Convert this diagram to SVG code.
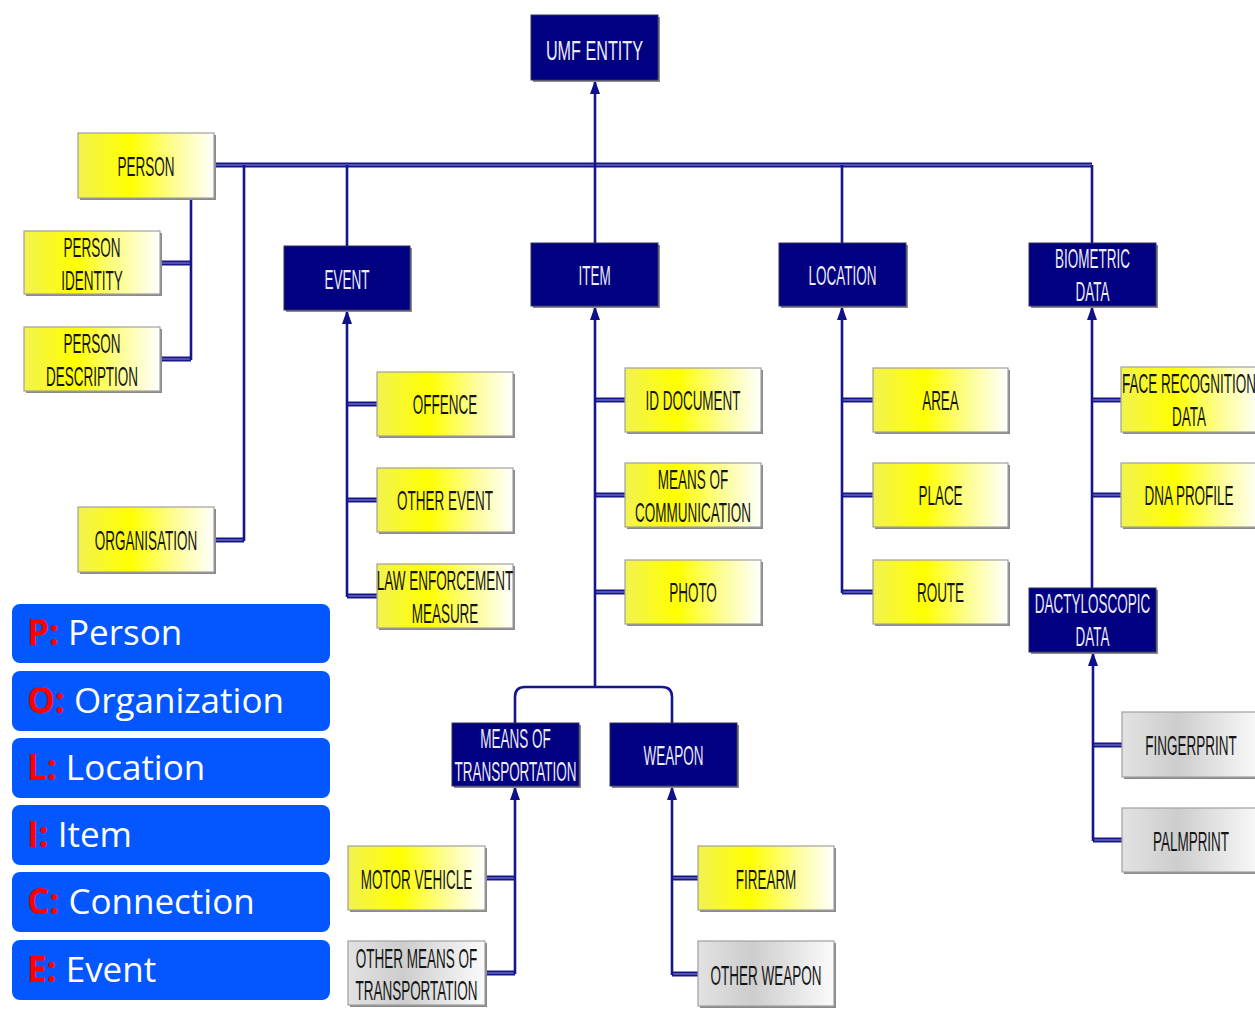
<svg xmlns="http://www.w3.org/2000/svg" width="1255" height="1009" viewBox="0 0 1255 1009">
  <defs>
    <linearGradient id="gy" x1="0" y1="0" x2="1" y2="0">
      <stop offset="0" stop-color="#f2f250"/>
      <stop offset="0.38" stop-color="#ffff00"/>
      <stop offset="0.7" stop-color="#fdfd90"/>
      <stop offset="1" stop-color="#ffffff"/>
    </linearGradient>
    <linearGradient id="gg" x1="0" y1="0" x2="1" y2="0">
      <stop offset="0" stop-color="#e2e2e2"/>
      <stop offset="0.4" stop-color="#cdcdcd"/>
      <stop offset="1" stop-color="#fbfbfb"/>
    </linearGradient>
    <!-- arrowhead drawn along +x, tip at the path end -->
    <marker id="ah" viewBox="0 0 14 10" refX="13" refY="5" markerWidth="14" markerHeight="10" markerUnits="userSpaceOnUse" orient="auto">
      <path d="M0 0 L14 5 L0 10 Z" fill="#101088"/>
    </marker>
    <style>
      .sh { fill: #8a8a8a; }
      .dk { fill: #000080; stroke: #30305a; stroke-width: 1; }
      .yl { fill: url(#gy); stroke: #a0a0a0; stroke-width: 1.2; }
      .gr { fill: url(#gg); stroke: #a0a0a0; stroke-width: 1.2; }
      .t { font-family: "Liberation Sans", Arial, sans-serif; font-size: 27px; text-anchor: middle; }
      .tw { fill: #ececf4; }
      .tb { fill: #151515; }
      .bus { fill: none; stroke: #16168c; stroke-width: 5; }
      .busc { fill: none; stroke: #8c8cd0; stroke-width: 1.2; }
      .ln { fill: none; stroke: #16168c; stroke-width: 2.6; }
      .lg { fill: #0457ff; }
      .lt { font-family: "Open Sans", "Liberation Sans", sans-serif; font-size: 35px; fill: #ffffff; }
      .lk { fill: #ff0000; font-weight: bold; }
    </style>
  </defs>

  <rect width="1255" height="1009" fill="#ffffff"/>

  <!-- connectors -->
  <g id="connectors">
    <!-- thick double-ruled runs -->
    <path class="bus" d="M214 165 H1092 M214 540 H244 M160 263 H191 M160 359 H191
      M347 404 H377 M347 500 H377 M347 596 H377
      M595 400 H625 M595 495 H625 M595 592 H625
      M842 400 H873 M842 495 H873 M842 592 H873
      M1092 400 H1121 M1092 495 H1121
      M1093 745 H1122 M1093 840 H1122
      M485 878 H515 M485 973 H515
      M672 878 H698 M672 974 H698"/>
    <path class="busc" d="M214 165 H1092 M214 540 H244 M160 263 H191 M160 359 H191
      M347 404 H377 M347 500 H377 M347 596 H377
      M595 400 H625 M595 495 H625 M595 592 H625
      M842 400 H873 M842 495 H873 M842 592 H873
      M1092 400 H1121 M1092 495 H1121
      M1093 745 H1122 M1093 840 H1122
      M485 878 H515 M485 973 H515
      M672 878 H698 M672 974 H698"/>
    <!-- drops from the main bus -->
    <path class="ln" d="M244 165 V541 M347 165 V246 M595 165 V243 M842 165 V243 M1092 165 V243 M191 198 V360"/>
    <!-- item split -->
    <path class="ln" d="M515 723 V697 Q515 687 525 687 H662 Q672 687 672 697 V723"/>
    <!-- inheritance arrows -->
    <path class="ln" marker-end="url(#ah)" d="M595 165 V81"/>
    <path class="ln" marker-end="url(#ah)" d="M347 597 V311"/>
    <path class="ln" marker-end="url(#ah)" d="M595 687 V307"/>
    <path class="ln" marker-end="url(#ah)" d="M842 593 V307"/>
    <path class="ln" marker-end="url(#ah)" d="M1092 588 V307"/>
    <path class="ln" marker-end="url(#ah)" d="M1093 841 V653"/>
    <path class="ln" marker-end="url(#ah)" d="M515 974 V787"/>
    <path class="ln" marker-end="url(#ah)" d="M672 975 V787"/>
  </g>

  <!-- top node -->
  <g id="umf-entity">
    <rect class="sh" x="533" y="17" width="127" height="65"/>
    <rect class="dk" x="531" y="15" width="127" height="65"/>
    <text class="t tw" transform="translate(594.5 60) scale(0.6 1)">UMF ENTITY</text>
  </g>

  <!-- person branch -->
  <g id="person">
    <rect class="sh" x="80" y="135" width="136" height="65"/>
    <rect class="yl" x="78" y="133" width="136" height="65"/>
    <text class="t tb" transform="translate(146 176) scale(0.5 1)">PERSON</text>
  </g>
  <g id="person-identity">
    <rect class="sh" x="26" y="233" width="136" height="63"/>
    <rect class="yl" x="24" y="231" width="136" height="63"/>
    <text class="t tb" transform="translate(92 257) scale(0.5 1)">PERSON</text>
    <text class="t tb" transform="translate(92 290) scale(0.5 1)">IDENTITY</text>
  </g>
  <g id="person-description">
    <rect class="sh" x="26" y="329" width="136" height="64"/>
    <rect class="yl" x="24" y="327" width="136" height="64"/>
    <text class="t tb" transform="translate(92 353) scale(0.5 1)">PERSON</text>
    <text class="t tb" transform="translate(92 386) scale(0.5 1)">DESCRIPTION</text>
  </g>
  <g id="organisation">
    <rect class="sh" x="80" y="509" width="136" height="65"/>
    <rect class="yl" x="78" y="507" width="136" height="65"/>
    <text class="t tb" transform="translate(146 550) scale(0.5 1)">ORGANISATION</text>
  </g>

  <!-- event branch -->
  <g id="event">
    <rect class="sh" x="286" y="248" width="126" height="64"/>
    <rect class="dk" x="284" y="246" width="126" height="64"/>
    <text class="t tw" transform="translate(347 289) scale(0.5 1)">EVENT</text>
  </g>
  <g id="offence">
    <rect class="sh" x="379" y="374" width="136" height="64"/>
    <rect class="yl" x="377" y="372" width="136" height="64"/>
    <text class="t tb" transform="translate(445 414) scale(0.5 1)">OFFENCE</text>
  </g>
  <g id="other-event">
    <rect class="sh" x="379" y="470" width="136" height="64"/>
    <rect class="yl" x="377" y="468" width="136" height="64"/>
    <text class="t tb" transform="translate(445 510) scale(0.5 1)">OTHER EVENT</text>
  </g>
  <g id="law-enforcement-measure">
    <rect class="sh" x="379" y="566" width="136" height="64"/>
    <rect class="yl" x="377" y="564" width="136" height="64"/>
    <text class="t tb" transform="translate(445 590) scale(0.5 1)">LAW ENFORCEMENT</text>
    <text class="t tb" transform="translate(445 623) scale(0.5 1)">MEASURE</text>
  </g>

  <!-- item branch -->
  <g id="item">
    <rect class="sh" x="533" y="245" width="127" height="63"/>
    <rect class="dk" x="531" y="243" width="127" height="63"/>
    <text class="t tw" transform="translate(594.5 285) scale(0.5 1)">ITEM</text>
  </g>
  <g id="id-document">
    <rect class="sh" x="627" y="370" width="136" height="64"/>
    <rect class="yl" x="625" y="368" width="136" height="64"/>
    <text class="t tb" transform="translate(693 410) scale(0.5 1)">ID DOCUMENT</text>
  </g>
  <g id="means-of-communication">
    <rect class="sh" x="627" y="465" width="136" height="64"/>
    <rect class="yl" x="625" y="463" width="136" height="64"/>
    <text class="t tb" transform="translate(693 489) scale(0.5 1)">MEANS OF</text>
    <text class="t tb" transform="translate(693 522) scale(0.5 1)">COMMUNICATION</text>
  </g>
  <g id="photo">
    <rect class="sh" x="627" y="562" width="136" height="64"/>
    <rect class="yl" x="625" y="560" width="136" height="64"/>
    <text class="t tb" transform="translate(693 602) scale(0.5 1)">PHOTO</text>
  </g>
  <g id="means-of-transportation">
    <rect class="sh" x="454" y="725" width="127" height="63"/>
    <rect class="dk" x="452" y="723" width="127" height="63"/>
    <text class="t tw" transform="translate(515.5 748) scale(0.5 1)">MEANS OF</text>
    <text class="t tw" transform="translate(515.5 781) scale(0.5 1)">TRANSPORTATION</text>
  </g>
  <g id="weapon">
    <rect class="sh" x="612" y="725" width="127" height="63"/>
    <rect class="dk" x="610" y="723" width="127" height="63"/>
    <text class="t tw" transform="translate(673.5 765) scale(0.5 1)">WEAPON</text>
  </g>
  <g id="motor-vehicle">
    <rect class="sh" x="350" y="848" width="137" height="64"/>
    <rect class="yl" x="348" y="846" width="137" height="64"/>
    <text class="t tb" transform="translate(416.5 889) scale(0.5 1)">MOTOR VEHICLE</text>
  </g>
  <g id="other-means-of-transportation">
    <rect class="sh" x="350" y="943" width="137" height="64"/>
    <rect class="gr" x="348" y="941" width="137" height="64"/>
    <text class="t tb" transform="translate(416.5 968) scale(0.5 1)">OTHER MEANS OF</text>
    <text class="t tb" transform="translate(416.5 1000) scale(0.5 1)">TRANSPORTATION</text>
  </g>
  <g id="firearm">
    <rect class="sh" x="700" y="848" width="136" height="64"/>
    <rect class="yl" x="698" y="846" width="136" height="64"/>
    <text class="t tb" transform="translate(766 889) scale(0.5 1)">FIREARM</text>
  </g>
  <g id="other-weapon">
    <rect class="sh" x="700" y="943" width="136" height="65"/>
    <rect class="gr" x="698" y="941" width="136" height="65"/>
    <text class="t tb" transform="translate(766 985) scale(0.5 1)">OTHER WEAPON</text>
  </g>

  <!-- location branch -->
  <g id="location">
    <rect class="sh" x="781" y="245" width="127" height="63"/>
    <rect class="dk" x="779" y="243" width="127" height="63"/>
    <text class="t tw" transform="translate(842.5 285) scale(0.5 1)">LOCATION</text>
  </g>
  <g id="area">
    <rect class="sh" x="875" y="370" width="135" height="64"/>
    <rect class="yl" x="873" y="368" width="135" height="64"/>
    <text class="t tb" transform="translate(940.5 410) scale(0.5 1)">AREA</text>
  </g>
  <g id="place">
    <rect class="sh" x="875" y="465" width="135" height="64"/>
    <rect class="yl" x="873" y="463" width="135" height="64"/>
    <text class="t tb" transform="translate(940.5 505) scale(0.5 1)">PLACE</text>
  </g>
  <g id="route">
    <rect class="sh" x="875" y="562" width="135" height="64"/>
    <rect class="yl" x="873" y="560" width="135" height="64"/>
    <text class="t tb" transform="translate(940.5 602) scale(0.5 1)">ROUTE</text>
  </g>

  <!-- biometric branch -->
  <g id="biometric-data">
    <rect class="sh" x="1031" y="245" width="127" height="63"/>
    <rect class="dk" x="1029" y="243" width="127" height="63"/>
    <text class="t tw" transform="translate(1092.5 268) scale(0.5 1)">BIOMETRIC</text>
    <text class="t tw" transform="translate(1092.5 301) scale(0.5 1)">DATA</text>
  </g>
  <g id="face-recognition-data">
    <rect class="sh" x="1123" y="369" width="140" height="65"/>
    <rect class="yl" x="1121" y="367" width="140" height="65"/>
    <text class="t tb" transform="translate(1189 393) scale(0.5 1)">FACE RECOGNITION</text>
    <text class="t tb" transform="translate(1189 426) scale(0.5 1)">DATA</text>
  </g>
  <g id="dna-profile">
    <rect class="sh" x="1123" y="465" width="140" height="64"/>
    <rect class="yl" x="1121" y="463" width="140" height="64"/>
    <text class="t tb" transform="translate(1189 505) scale(0.5 1)">DNA PROFILE</text>
  </g>
  <g id="dactyloscopic-data">
    <rect class="sh" x="1031" y="590" width="127" height="64"/>
    <rect class="dk" x="1029" y="588" width="127" height="64"/>
    <text class="t tw" transform="translate(1092.5 613) scale(0.5 1)">DACTYLOSCOPIC</text>
    <text class="t tw" transform="translate(1092.5 646) scale(0.5 1)">DATA</text>
  </g>
  <g id="fingerprint">
    <rect class="sh" x="1124" y="714" width="140" height="65"/>
    <rect class="gr" x="1122" y="712" width="140" height="65"/>
    <text class="t tb" transform="translate(1191 755) scale(0.5 1)">FINGERPRINT</text>
  </g>
  <g id="palmprint">
    <rect class="sh" x="1124" y="810" width="140" height="64"/>
    <rect class="gr" x="1122" y="808" width="140" height="64"/>
    <text class="t tb" transform="translate(1191 851) scale(0.5 1)">PALMPRINT</text>
  </g>

  <!-- legend -->
  <g id="legend">
    <rect class="lg" x="12" y="604" width="318" height="59" rx="8"/>
    <text class="lt" x="27" y="645"><tspan class="lk">P:</tspan> Person</text>
    <rect class="lg" x="12" y="671" width="318" height="60" rx="8"/>
    <text class="lt" x="27" y="713"><tspan class="lk">O:</tspan> Organization</text>
    <rect class="lg" x="12" y="738" width="318" height="60" rx="8"/>
    <text class="lt" x="27" y="780"><tspan class="lk">L:</tspan> Location</text>
    <rect class="lg" x="12" y="805" width="318" height="60" rx="8"/>
    <text class="lt" x="27" y="847"><tspan class="lk">I:</tspan> Item</text>
    <rect class="lg" x="12" y="872" width="318" height="60" rx="8"/>
    <text class="lt" x="27" y="914"><tspan class="lk">C:</tspan> Connection</text>
    <rect class="lg" x="12" y="940" width="318" height="60" rx="8"/>
    <text class="lt" x="27" y="982"><tspan class="lk">E:</tspan> Event</text>
  </g>
</svg>
